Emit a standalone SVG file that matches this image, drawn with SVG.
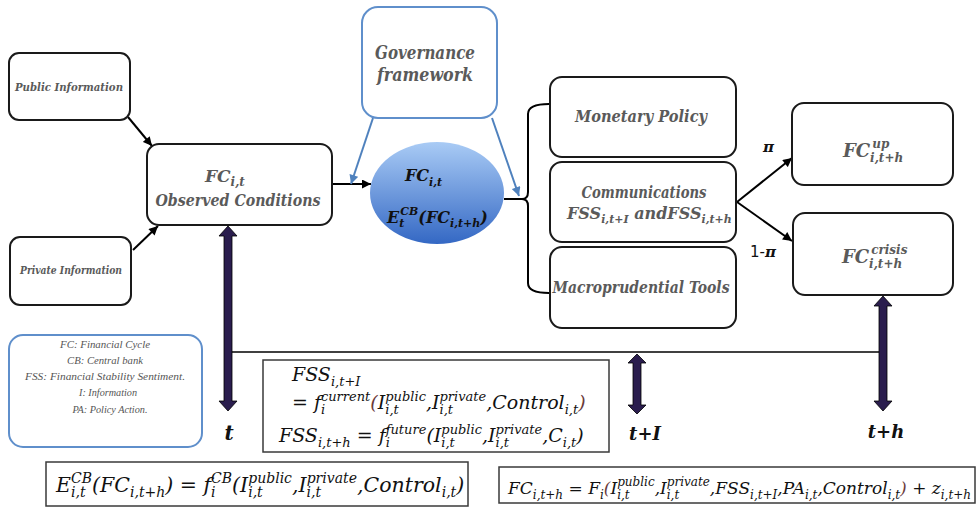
<svg xmlns="http://www.w3.org/2000/svg" width="977" height="507" viewBox="0 0 977 507">
<defs>
<style>
.box{fill:#fff;stroke:#1a1a1a;stroke-width:2}
.bbox{fill:#fff;stroke:#5f8fcb;stroke-width:2}
.fbox{fill:#fff;stroke:#3a3a3a;stroke-width:1.5}
.lbl{font-family:"DejaVu Serif","Liberation Serif",serif;font-style:italic;font-weight:bold;fill:#5a5a5a}
.leg{font-family:"Liberation Serif","DejaVu Serif",serif;font-style:italic;font-size:10px;fill:#555}
.math{font-family:"DejaVu Serif","Liberation Serif",serif;font-style:italic;fill:#111}
.s{font-size:13px}
.s14{font-size:14px}
.s12{font-size:12px}
.br{fill:#6b3b3b}
.conn{fill:none;stroke:#000;stroke-width:2}
.bconn{fill:none;stroke:#4f81bd;stroke-width:2}
.big{fill:#2a1d4e;stroke:#000;stroke-width:0.8}
</style>
<marker id="ah" viewBox="0 0 10 10" refX="10" refY="5" markerWidth="10" markerHeight="9" markerUnits="userSpaceOnUse" orient="auto">
<path d="M0,0 L10,5 L0,10 z" fill="#000"/>
</marker>
<marker id="bah" viewBox="0 0 10 10" refX="10" refY="5" markerWidth="10" markerHeight="9" markerUnits="userSpaceOnUse" orient="auto">
<path d="M0,0 L10,5 L0,10 z" fill="#4f81bd"/>
</marker>
<linearGradient id="cg" x1="0" y1="0" x2="0" y2="1">
<stop offset="0" stop-color="#a9cbf5"/>
<stop offset="1" stop-color="#3468c4"/>
</linearGradient>
</defs>
<rect width="977" height="507" fill="#fff"/>

<g id="connectors">
<path class="conn" d="M128,117 L152,146" marker-end="url(#ah)"/>
<path class="conn" d="M133,250 L158,226" marker-end="url(#ah)"/>
<path class="conn" d="M332,184 L371,184" marker-end="url(#ah)"/>
<path class="bconn" d="M373,118 L351,184" marker-end="url(#bah)"/>
<path class="bconn" d="M492,118 L519,196" marker-end="url(#bah)"/>
<path class="conn" d="M504,199 L522,199"/>
<path class="conn" d="M549,104 Q528,104 528,114 L528,192 Q528,199 522,199 Q528,199 528,206 L528,283 Q528,293 549,293"/>
<path class="conn" d="M737,202 L792,158" marker-end="url(#ah)"/>
<path class="conn" d="M737,202 L792,241" marker-end="url(#ah)"/>
<path d="M228,352 H883" stroke="#000" stroke-width="1.6" fill="none"/>
<path class="big" d="M228,226 L237,236 L232,236 L232,401 L237,401 L228,411 L219,401 L224,401 L224,236 L219,236 Z"/>
<path class="big" d="M883,296 L892,306 L887,306 L887,401 L892,401 L883,411 L874,401 L879,401 L879,306 L874,306 Z"/>
<path class="big" d="M637,354 L646,363 L641,363 L641,405 L646,405 L637,414 L628,405 L633,405 L633,363 L628,363 Z"/>
<text x="763" y="152" font-family="DejaVu Serif,serif" font-size="15" font-weight="bold" font-style="italic" fill="#111">π</text>
<text x="750" y="257" font-family="DejaVu Sans,sans-serif" font-size="15" fill="#111">1-<tspan font-family="DejaVu Serif,serif" font-weight="bold" font-style="italic">π</tspan></text>
</g>

<g id="public">
<rect class="box" x="9" y="53" width="121" height="67" rx="10"/>
<text class="lbl" x="69" y="91" font-size="11" text-anchor="middle" textLength="108" lengthAdjust="spacingAndGlyphs">Public Information</text>
</g>
<g id="private">
<rect class="box" x="10" y="237" width="121" height="68" rx="10"/>
<text class="lbl" x="71" y="274" font-size="11" text-anchor="middle" textLength="102" lengthAdjust="spacingAndGlyphs">Private Information</text>
</g>
<g id="observed">
<rect class="box" x="147" y="144" width="185" height="81" rx="12"/>
<text class="lbl" x="205" y="182" font-size="17">FC<tspan font-size="12" dy="4">i,t</tspan></text>
<text class="lbl" x="238" y="206" font-size="17" text-anchor="middle" textLength="165" lengthAdjust="spacingAndGlyphs">Observed Conditions</text>
</g>
<g id="governance">
<rect class="bbox" x="362" y="7" width="135" height="111" rx="16"/>
<text class="lbl" x="425" y="59" font-size="18" text-anchor="middle" textLength="100" lengthAdjust="spacingAndGlyphs">Governance</text>
<text class="lbl" x="425" y="81" font-size="18" text-anchor="middle" textLength="96" lengthAdjust="spacingAndGlyphs">framework</text>
</g>
<g id="cb">
<ellipse cx="437" cy="193" rx="67" ry="51" fill="url(#cg)"/>
<text class="math" x="405" y="181" font-size="16" font-weight="bold" fill="#1d2540">FC<tspan font-size="11" dy="5">i,t</tspan></text>
<text class="math" x="387" y="223" font-size="16" font-weight="bold" fill="#1d2540">E<tspan font-size="11" dy="4">t</tspan><tspan font-size="11" dx="-4" dy="-12">CB</tspan><tspan dy="8">(FC</tspan><tspan font-size="11" dy="4">i,t+h</tspan><tspan dy="-4">)</tspan></text>
</g>
<g id="monetary">
<rect class="box" x="550" y="77" width="186" height="80" rx="12"/>
<text class="lbl" x="641" y="122" font-size="17" text-anchor="middle" textLength="132" lengthAdjust="spacingAndGlyphs">Monetary Policy</text>
</g>
<g id="communications">
<rect class="box" x="550" y="162" width="186" height="80" rx="12"/>
<text class="lbl" x="644" y="198" font-size="17" text-anchor="middle" textLength="125" lengthAdjust="spacingAndGlyphs">Communications</text>
<text class="lbl" x="567" y="219" font-size="16">FSS<tspan font-size="11" dy="4">i,t+I</tspan><tspan dy="-4"> andFSS</tspan><tspan font-size="11" dy="4">i,t+h</tspan></text>
</g>
<g id="macro">
<rect class="box" x="550" y="247" width="186" height="81" rx="12"/>
<text class="lbl" x="641" y="293" font-size="17" text-anchor="middle" textLength="177" lengthAdjust="spacingAndGlyphs">Macroprudential Tools</text>
</g>
<g id="fcup">
<rect class="box" x="792" y="103" width="161" height="82" rx="12"/>
<text class="lbl" x="843" y="157" font-size="18">FC<tspan font-size="12" dy="5">i,t+h</tspan><tspan font-size="12" dx="-31" dy="-14">up</tspan></text>
</g>
<g id="fccrisis">
<rect class="box" x="793" y="213" width="160" height="82" rx="12"/>
<text class="lbl" x="842" y="263" font-size="18">FC<tspan font-size="12" dy="5">i,t+h</tspan><tspan font-size="12" dx="-31" dy="-14">crisis</tspan></text>
</g>
<g id="legend">
<rect class="bbox" x="9" y="335" width="193" height="112" rx="14"/>
<text class="leg" x="105" y="348" text-anchor="middle" textLength="90" lengthAdjust="spacingAndGlyphs">FC: Financial Cycle</text>
<text class="leg" x="105" y="364" text-anchor="middle" textLength="76" lengthAdjust="spacingAndGlyphs">CB: Central bank</text>
<text class="leg" x="105" y="380" text-anchor="middle" textLength="160" lengthAdjust="spacingAndGlyphs">FSS: Financial Stability Sentiment.</text>
<text class="leg" x="108" y="396" text-anchor="middle" textLength="58" lengthAdjust="spacingAndGlyphs">I: Information</text>
<text class="leg" x="110" y="413" text-anchor="middle" textLength="75" lengthAdjust="spacingAndGlyphs">PA:  Policy Action.</text>
</g>
<g id="time-labels">
<text class="math" x="229" y="440" font-size="20" font-weight="bold" text-anchor="middle">t</text>
<text class="math" x="645" y="440" font-size="18" font-weight="bold" text-anchor="middle">t+I</text>
<text class="math" x="886" y="438" font-size="18" font-weight="bold" text-anchor="middle">t+h</text>
</g>
<g id="fss-formula">
<rect class="fbox" x="263" y="360" width="346" height="92"/>
<text class="math" x="292" y="381" font-size="19">FSS<tspan class="s" dy="5">i,t+I</tspan></text>
<text class="math" x="292" y="409" font-size="19">= f<tspan class="s" dy="5">i</tspan><tspan class="s" dx="-4.2" dy="-13">current</tspan><tspan class="br" dy="8">(</tspan><tspan>I</tspan><tspan class="s" dy="5">i,t</tspan><tspan class="s" dx="-13.5" dy="-13">public</tspan><tspan dy="8">,I</tspan><tspan class="s" dy="5">i,t</tspan><tspan class="s" dx="-13.5" dy="-13">private</tspan><tspan dy="8">,Control</tspan><tspan class="s" dy="5">i,t</tspan><tspan class="br" dy="-5">)</tspan></text>
<text class="math" x="279" y="442" font-size="19">FSS<tspan class="s" dy="5">i,t+h</tspan><tspan dy="-5"> = f</tspan><tspan class="s" dy="5">i</tspan><tspan class="s" dx="-4.2" dy="-13">future</tspan><tspan dy="8">(I</tspan><tspan class="s" dy="5">i,t</tspan><tspan class="s" dx="-13.5" dy="-13">public</tspan><tspan dy="8">,I</tspan><tspan class="s" dy="5">i,t</tspan><tspan class="s" dx="-13.5" dy="-13">private</tspan><tspan dy="8">,C</tspan><tspan class="s" dy="5">i,t</tspan><tspan dy="-5">)</tspan></text>
</g>
<g id="ecb-formula">
<rect class="fbox" x="46" y="462" width="422" height="44"/>
<text class="math" x="56" y="492" font-size="20.5">E<tspan class="s14" dy="5">i,t</tspan><tspan class="s14" dx="-14.5" dy="-14">CB</tspan><tspan dy="9">(FC</tspan><tspan class="s14" dy="5">i,t+h</tspan><tspan dy="-5">) = f</tspan><tspan class="s14" dy="5">i</tspan><tspan class="s14" dx="-4.5" dy="-14">CB</tspan><tspan dy="9">(I</tspan><tspan class="s14" dy="5">i,t</tspan><tspan class="s14" dx="-14.5" dy="-14">public</tspan><tspan dy="9">,I</tspan><tspan class="s14" dy="5">i,t</tspan><tspan class="s14" dx="-14.5" dy="-14">private</tspan><tspan dy="9">,Control</tspan><tspan class="s14" dy="5">i,t</tspan><tspan dy="-5">)</tspan></text>
</g>
<g id="fc-formula">
<rect class="fbox" x="499" y="467" width="476" height="36"/>
<text class="math" x="508" y="494" font-size="17">FC<tspan class="s12" dy="5">i,t+h</tspan><tspan dy="-5"> = F</tspan><tspan class="s12" dy="5">i</tspan><tspan class="br" dy="-5">(</tspan><tspan>I</tspan><tspan class="s12" dy="5">i,t</tspan><tspan class="s12" dx="-12.5" dy="-13">public</tspan><tspan dy="8">,I</tspan><tspan class="s12" dy="5">i,t</tspan><tspan class="s12" dx="-12.5" dy="-13">private</tspan><tspan dy="8">,FSS</tspan><tspan class="s12" dy="5">i,t+I</tspan><tspan dy="-5">,PA</tspan><tspan class="s12" dy="5">i,t</tspan><tspan dy="-5">,Control</tspan><tspan class="s12" dy="5">i,t</tspan><tspan class="br" dy="-5">)</tspan><tspan> + z</tspan><tspan class="s12" dy="5">i,t+h</tspan></text>
</g>
</svg>
